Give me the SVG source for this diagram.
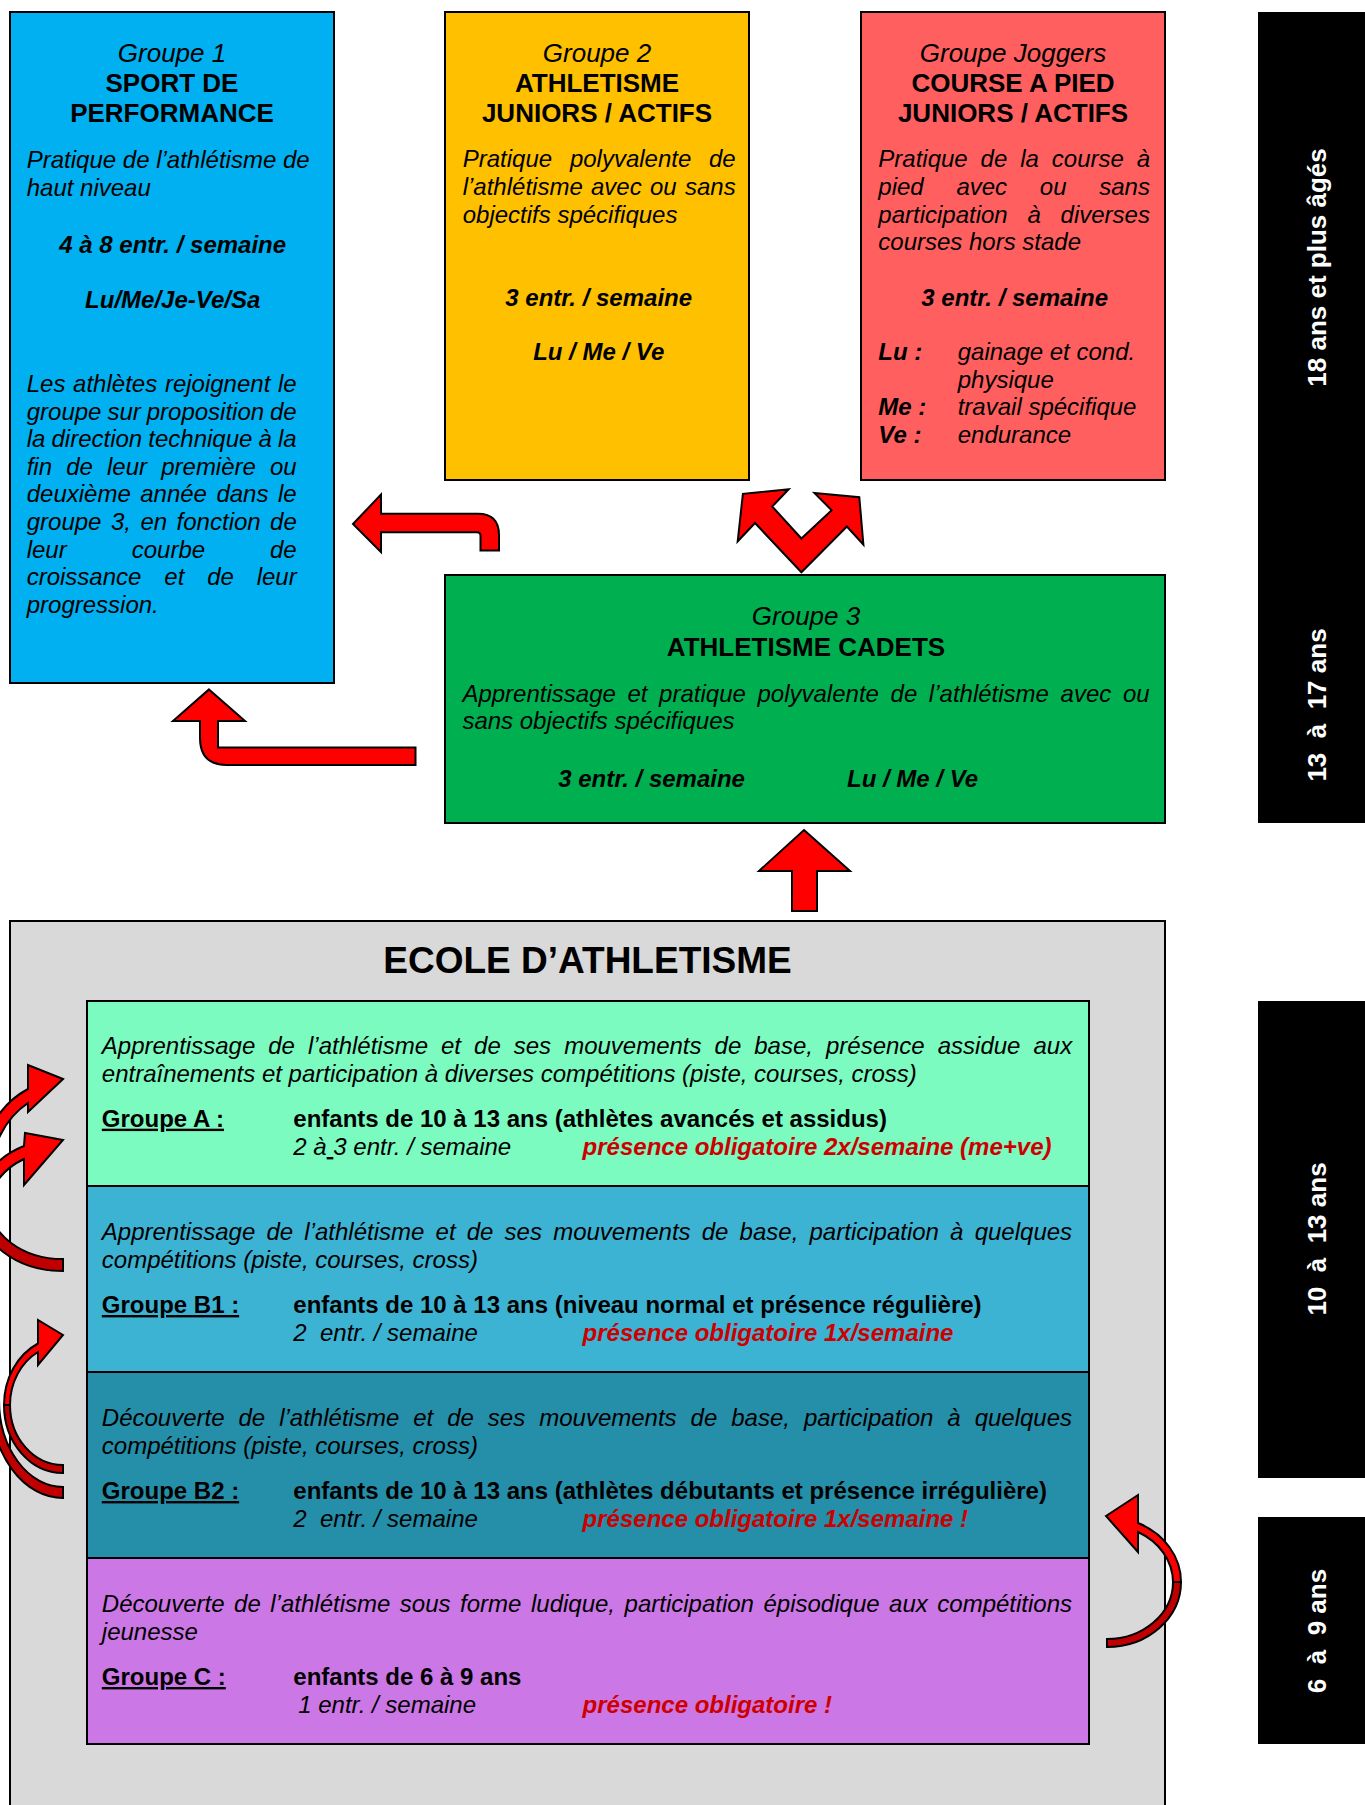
<svg xmlns="http://www.w3.org/2000/svg" width="1365" height="1805" viewBox="0 0 1365 1805">
<style>
text{font-family:"Liberation Sans",Arial,sans-serif;fill:#000}
.i{font-style:italic}
.b{font-weight:bold}
.f24{font-size:24px}
.f26{font-size:26px}
.c{text-anchor:middle}
.box{stroke:#000;stroke-width:2}
.age{fill:#fff;font-weight:bold;font-size:26px;text-anchor:middle}
.arr{fill:#FF0000;stroke:#000;stroke-width:2;stroke-linejoin:miter}
.dk{fill:#C00000;stroke:#000;stroke-width:2;stroke-linejoin:miter}
.red{fill:#CC0000}
.u{text-decoration:underline}
</style>
<rect width="1365" height="1805" fill="#fff"/>

<g id="groupe1">
<rect class="box" x="10" y="12" width="324" height="671" fill="#00B0F0"/>
<text class="i f26 c" x="172" y="62">Groupe 1</text>
<text class="b f26 c" x="172" y="92">SPORT DE</text>
<text class="b f26 c" x="172" y="122">PERFORMANCE</text>
<text class="i f24" y="168"><tspan x="26.7">Pratique</tspan><tspan x="122.8">de</tspan><tspan x="156.2">l’athlétisme</tspan><tspan x="282.9">de</tspan></text>
<text class="i f24" x="26.7" y="195.6">haut niveau</text>
<text class="i b f24 c" x="172.7" y="253">4 à 8 entr. / semaine</text>
<text class="i b f24 c" x="172.7" y="308">Lu/Me/Je-Ve/Sa</text>
<text class="i f24" y="392"><tspan x="26.7">Les</tspan><tspan x="73.1">athlètes</tspan><tspan x="164.9">rejoignent</tspan><tspan x="278">le</tspan></text>
<text class="i f24" y="419.6"><tspan x="26.7">groupe</tspan><tspan x="107.4">sur</tspan><tspan x="146.7">proposition</tspan><tspan x="270">de</tspan></text>
<text class="i f24" y="447.2"><tspan x="26.7">la</tspan><tspan x="51.5">direction</tspan><tspan x="148.3">technique</tspan><tspan x="258.5">à</tspan><tspan x="277.9">la</tspan></text>
<text class="i f24" y="474.8"><tspan x="26.7">fin</tspan><tspan x="66.2">de</tspan><tspan x="107">leur</tspan><tspan x="161.2">première</tspan><tspan x="270">ou</tspan></text>
<text class="i f24" y="502.4"><tspan x="26.7">deuxième</tspan><tspan x="140.2">année</tspan><tspan x="216.4">dans</tspan><tspan x="277.9">le</tspan></text>
<text class="i f24" y="530"><tspan x="26.7">groupe</tspan><tspan x="110.9">3,</tspan><tspan x="140.4">en</tspan><tspan x="176.6">fonction</tspan><tspan x="270.1">de</tspan></text>
<text class="i f24" y="557.6"><tspan x="26.7">leur</tspan><tspan x="131.7">courbe</tspan><tspan x="270">de</tspan></text>
<text class="i f24" y="585.2"><tspan x="26.7">croissance</tspan><tspan x="164.3">et</tspan><tspan x="207.2">de</tspan><tspan x="256.7">leur</tspan></text>
<text class="i f24" x="26.7" y="612.8">progression.</text>
</g>

<g id="groupe2">
<rect class="box" x="445" y="12" width="304" height="468" fill="#FFC000"/>
<text class="i f26 c" x="597" y="62">Groupe 2</text>
<text class="b f26 c" x="597" y="92">ATHLETISME</text>
<text class="b f26 c" x="597" y="122">JUNIORS / ACTIFS</text>
<text class="i f24" y="167.4"><tspan x="462.7">Pratique</tspan><tspan x="569.9">polyvalente</tspan><tspan x="709">de</tspan></text>
<text class="i f24" y="195"><tspan x="462.7">l’athlétisme</tspan><tspan x="591">avec</tspan><tspan x="650">ou</tspan><tspan x="685">sans</tspan></text>
<text class="i f24" x="462.7" y="222.6">objectifs spécifiques</text>
<text class="i b f24 c" x="598.7" y="305.6">3 entr. / semaine</text>
<text class="i b f24 c" x="598.7" y="360">Lu / Me / Ve</text>
</g>

<g id="groupe-joggers">
<rect class="box" x="861" y="12" width="304" height="468" fill="#FF5F5F"/>
<text class="i f26 c" x="1013" y="62">Groupe Joggers</text>
<text class="b f26 c" x="1013" y="92">COURSE A PIED</text>
<text class="b f26 c" x="1013" y="122">JUNIORS / ACTIFS</text>
<text class="i f24" y="167.4"><tspan x="878.3">Pratique</tspan><tspan x="980.6">de</tspan><tspan x="1020.2">la</tspan><tspan x="1051.8">course</tspan><tspan x="1136.7">à</tspan></text>
<text class="i f24" y="195"><tspan x="878.3">pied</tspan><tspan x="956.4">avec</tspan><tspan x="1039.8">ou</tspan><tspan x="1099.2">sans</tspan></text>
<text class="i f24" y="222.6"><tspan x="878.3">participation</tspan><tspan x="1027.5">à</tspan><tspan x="1060.6">diverses</tspan></text>
<text class="i f24" x="878.3" y="250.2">courses hors stade</text>
<text class="i b f24 c" x="1014.7" y="305.6">3 entr. / semaine</text>
<text class="i b f24" x="878.3" y="360">Lu :</text>
<text class="i f24" x="957.7" y="360">gainage et cond.</text>
<text class="i f24" x="957.7" y="387.6">physique</text>
<text class="i b f24" x="878.3" y="415.2">Me :</text>
<text class="i f24" x="957.7" y="415.2">travail spécifique</text>
<text class="i b f24" x="878.3" y="442.8">Ve :</text>
<text class="i f24" x="957.7" y="442.8">endurance</text>
</g>

<g id="groupe3">
<rect class="box" x="445" y="575" width="720" height="248" fill="#00B050"/>
<text class="i f26 c" x="806" y="625">Groupe 3</text>
<text class="b f26 c" x="806" y="656">ATHLETISME CADETS</text>
<text class="i f24" x="462.4" y="701.5" word-spacing="4.97">Apprentissage et pratique polyvalente de l’athlétisme avec ou</text>
<text class="i f24" x="462.4" y="729">sans objectifs spécifiques</text>
<text class="i b f24" x="558.2" y="787">3 entr. / semaine</text>
<text class="i b f24" x="847" y="787">Lu / Me / Ve</text>
</g>

<g id="ecole">
<rect class="box" x="10" y="921" width="1155" height="900" fill="#D9D9D9"/>
<text class="b c" x="587.5" y="973" style="font-size:37px">ECOLE D’ATHLETISME</text>
</g>

<g id="groupeA">
<rect class="box" x="87" y="1001" width="1002" height="185" fill="#7BFBC0"/>
<text class="i f24" x="101.8" y="1054" word-spacing="6.35">Apprentissage de l’athlétisme et de ses mouvements de base, présence assidue aux</text>
<text class="i f24" x="101.8" y="1081.6">entraînements et participation à diverses compétitions (piste, courses, cross)</text>
<text class="b f24 u" x="101.8" y="1126.7">Groupe A :</text>
<text class="b f24" x="293.3" y="1126.7">enfants de 10 à 13 ans (athlètes avancés et assidus)</text>
<text class="i f24" x="293.3" y="1155" xml:space="preserve">2 à<tspan class="u"> </tspan>3 entr. / semaine</text>
<text class="i b f24 red" x="582.6" y="1155">présence obligatoire 2x/semaine (me+ve)</text>
</g>

<g id="groupeB1">
<rect class="box" x="87" y="1186" width="1002" height="186" fill="#3DB3D3"/>
<text class="i f24" x="101.8" y="1240" word-spacing="4.52">Apprentissage de l’athlétisme et de ses mouvements de base, participation à quelques</text>
<text class="i f24" x="101.8" y="1267.6">compétitions (piste, courses, cross)</text>
<text class="b f24 u" x="101.8" y="1313">Groupe B1 :</text>
<text class="b f24" x="293.3" y="1313">enfants de 10 à 13 ans (niveau normal et présence régulière)</text>
<text class="i f24" x="293.3" y="1341" xml:space="preserve">2  entr. / semaine</text>
<text class="i b f24 red" x="582.6" y="1341">présence obligatoire 1x/semaine</text>
</g>

<g id="groupeB2">
<rect class="box" x="87" y="1372" width="1002" height="186" fill="#258EA8"/>
<text class="i f24" x="101.8" y="1426" word-spacing="7.31">Découverte de l’athlétisme et de ses mouvements de base, participation à quelques</text>
<text class="i f24" x="101.8" y="1453.6">compétitions (piste, courses, cross)</text>
<text class="b f24 u" x="101.8" y="1499">Groupe B2 :</text>
<text class="b f24" x="293.3" y="1499">enfants de 10 à 13 ans (athlètes débutants et présence irrégulière)</text>
<text class="i f24" x="293.3" y="1527" xml:space="preserve">2  entr. / semaine</text>
<text class="i b f24 red" x="582.6" y="1527">présence obligatoire 1x/semaine !</text>
</g>

<g id="groupeC">
<rect class="box" x="87" y="1558" width="1002" height="186" fill="#CC77E6"/>
<text class="i f24" x="101.8" y="1612" word-spacing="2.86">Découverte de l’athlétisme sous forme ludique, participation épisodique aux compétitions</text>
<text class="i f24" x="101.8" y="1639.6">jeunesse</text>
<text class="b f24 u" x="101.8" y="1685">Groupe C :</text>
<text class="b f24" x="293.3" y="1685">enfants de 6 à 9 ans</text>
<text class="i f24" x="298.2" y="1713">1 entr. / semaine</text>
<text class="i b f24 red" x="582.6" y="1713">présence obligatoire !</text>
</g>

<g id="ages">
<rect x="1258" y="12" width="107" height="811" fill="#000"/>
<rect x="1258" y="1001" width="107" height="477" fill="#000"/>
<rect x="1258" y="1517" width="107" height="227" fill="#000"/>
<text class="age" transform="translate(1326,267.5) rotate(-90)">18 ans et plus âgés</text>
<text class="age" transform="translate(1326,705) rotate(-90)" xml:space="preserve">13  à  17 ans</text>
<text class="age" transform="translate(1326,1239) rotate(-90)" xml:space="preserve">10  à  13 ans</text>
<text class="age" transform="translate(1326,1631) rotate(-90)" xml:space="preserve">6  à  9 ans</text>
</g>

<g id="connectors">
<path class="arr" d="M353,524 L381,494.5 L381,513.7 L478,513.7 Q499,513.7 499,535 L499,550.6 L480.5,550.6 L480.5,536 Q480.5,532.3 477,532.3 L381,532.3 L381,552 Z"/>
<path class="arr" d="M801.4,572.3 L755,523 L737.7,541.3 L742.9,493.8 L788.7,489.3 L772.2,506.5 L801.4,538.5 L831.7,510.3 L814.5,493.1 L859.3,497.2 L863.4,544.7 L846.9,526.5 Z"/>
<path class="arr" d="M209,689.4 L245,721 L218,721 L218,747.5 L415.5,747.5 L415.5,765 L227,765 Q200,765 200,738 L200,721 L173,721 Z"/>
<path class="arr" d="M804,830 L850,871 L817,871 L817,911 L792,911 L792,871 L759,871 Z"/>
<path class="arr" d="M63,1079 L28,1065 L28,1089 A85,100 0 0 0 -22,1180 L-10,1180 A73,88 0 0 1 28,1103 L28,1112 Z"/>
<path class="dk" d="M-22,1205 A85,66 0 0 0 63,1271 L63,1259 A73,54 0 0 1 -10,1205 Z"/>
<path class="arr" d="M63,1140 L25,1133 L24,1146 A85,66 0 0 0 -22,1205 L-10,1205 A73,54 0 0 1 24,1159 L24,1185 Z"/>
<path class="dk" d="M-9,1400 A72,98 0 0 0 63,1498 L63,1487 A64,87 0 0 1 -1,1400 Z"/>
<path class="dk" d="M4,1405 A59,68 0 0 0 63,1473 L63,1465 A53,60 0 0 1 10,1405 Z"/>
<path class="arr" d="M63,1335 L38,1320 L38,1343.5 A59,68 0 0 0 4,1405 L10,1405 A53,60 0 0 1 38,1352 L38,1365 Z"/>
<path class="dk" d="M1181,1582 A74,65 0 0 1 1107,1647 L1107,1639 A66,57 0 0 0 1173,1582 Z"/>
<path class="arr" d="M1106,1516 L1138,1495 L1138,1523 A74,65 0 0 1 1181,1582 L1173,1582 A66,57 0 0 0 1138,1532 L1138,1552 Z"/>
</g>
</svg>
